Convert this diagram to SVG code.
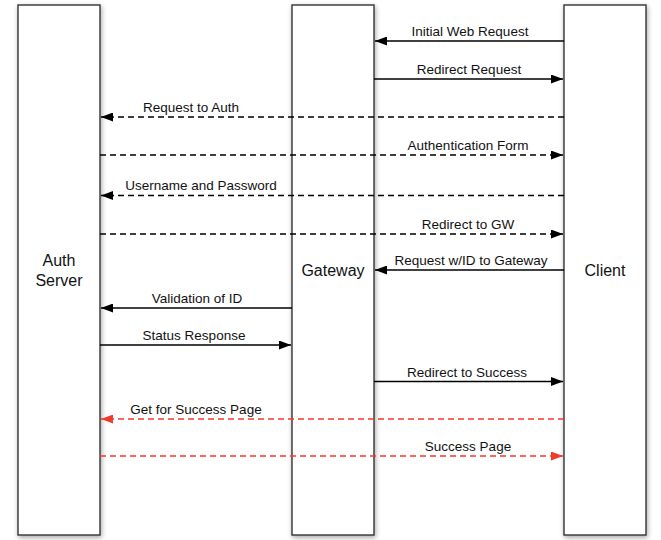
<svg xmlns="http://www.w3.org/2000/svg" width="661" height="540" viewBox="0 0 661 540">
  <style>
    .box { fill: #fff; stroke: #333; stroke-width: 1.4; filter: url(#shadow); }
    .node-label { font-family: "Liberation Sans", Arial, sans-serif; font-size: 16px; fill: #111; text-anchor: middle; }
    .lbl { font-family: "Liberation Sans", Arial, sans-serif; font-size: 13.5px; fill: #111; text-anchor: middle; }
    .solid { stroke: #000; stroke-width: 1.3; fill: none; }
    .dash { stroke: #000; stroke-width: 1.3; fill: none; stroke-dasharray: 6 4; }
    .red { stroke: #f23a2b; stroke-width: 1.3; fill: none; stroke-dasharray: 6 4; }
    .blk-end { marker-end: url(#ah); }
    .red-end { marker-end: url(#ahr); }
  </style>
  <defs>
    <filter id="shadow" x="-20%" y="-5%" width="140%" height="110%">
      <feDropShadow dx="1" dy="2" stdDeviation="2.5" flood-color="#000" flood-opacity="0.35"/>
    </filter>
    <marker id="ah" viewBox="0 0 12 9" refX="12" refY="4.5" markerWidth="12" markerHeight="9" markerUnits="userSpaceOnUse" orient="auto">
      <path d="M0,0 L12,4.5 L0,9 Z" fill="#000"/>
    </marker>
    <marker id="ahr" viewBox="0 0 12 9" refX="12" refY="4.5" markerWidth="12" markerHeight="9" markerUnits="userSpaceOnUse" orient="auto">
      <path d="M0,0 L12,4.5 L0,9 Z" fill="#f23a2b"/>
    </marker>
  </defs>

  <g id="auth-server">
    <rect class="box" x="18" y="5" width="82" height="530"/>
    <text class="node-label" x="59" y="266">Auth</text>
    <text class="node-label" x="59" y="286">Server</text>
  </g>
  <g id="gateway">
    <rect class="box" x="292" y="5" width="82" height="530"/>
    <text class="node-label" x="333" y="276">Gateway</text>
  </g>
  <g id="client">
    <rect class="box" x="564" y="5" width="82" height="530"/>
    <text class="node-label" x="605" y="276">Client</text>
  </g>

  <g id="connectors">
    <line class="solid blk-end" x1="564" y1="41" x2="375" y2="41"/>
    <text class="lbl" x="470" y="36">Initial Web Request</text>

    <line class="solid blk-end" x1="374" y1="79" x2="563" y2="79"/>
    <text class="lbl" x="469" y="74">Redirect Request</text>

    <line class="dash blk-end" x1="564" y1="117" x2="101" y2="117"/>
    <text class="lbl" x="191" y="112">Request to Auth</text>

    <line class="dash blk-end" x1="100" y1="155" x2="563" y2="155"/>
    <text class="lbl" x="468" y="150">Authentication Form</text>

    <line class="dash blk-end" x1="564" y1="195.5" x2="101" y2="195.5"/>
    <text class="lbl" x="201" y="190">Username and Password</text>

    <line class="dash blk-end" x1="100" y1="234" x2="563" y2="234"/>
    <text class="lbl" x="468" y="229">Redirect to GW</text>

    <line class="solid blk-end" x1="564" y1="270" x2="375" y2="270"/>
    <text class="lbl" x="471" y="265">Request w/ID to Gateway</text>

    <line class="solid blk-end" x1="292" y1="308" x2="101" y2="308"/>
    <text class="lbl" x="197" y="303">Validation of ID</text>

    <line class="solid blk-end" x1="100" y1="345" x2="291" y2="345"/>
    <text class="lbl" x="194" y="340">Status Response</text>

    <line class="solid blk-end" x1="374" y1="381.5" x2="563" y2="381.5"/>
    <text class="lbl" x="467" y="377">Redirect to Success</text>

    <line class="red red-end" x1="564" y1="419" x2="101" y2="419"/>
    <text class="lbl" x="196" y="414">Get for Success Page</text>

    <line class="red red-end" x1="100" y1="456" x2="563" y2="456"/>
    <text class="lbl" x="468" y="451">Success Page</text>
  </g>
</svg>
